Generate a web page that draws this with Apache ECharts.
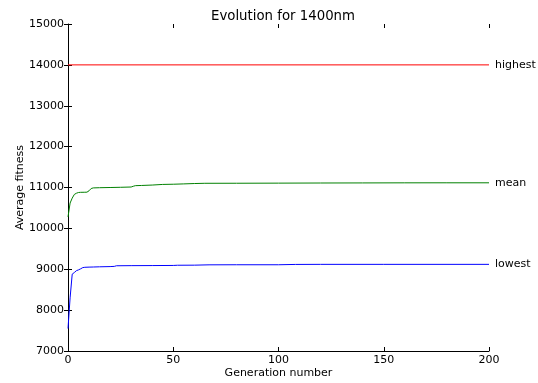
<!DOCTYPE html>
<html><head><meta charset="utf-8">
<script src="https://cdn.jsdelivr.net/npm/echarts@6/dist/echarts.min.js"></script>
<style>html,body{margin:0;padding:0;background:#fff}#c{width:538px;height:383px}</style>
</head><body><div id="c"></div>
<script>
const xTicks = [0, 50, 100, 150, 200];
const highestGens = [0, 200];
const highestVals = [14000, 14000];
const meanGens = [0, 1, 2, 3, 4, 5, 6, 8, 9, 10, 11, 12, 15, 20, 25, 30, 31, 32, 35, 40, 45, 50, 55, 60, 65, 80, 100, 120, 140, 160, 180, 200];
const meanVals = [10280, 10620, 10740, 10830, 10860, 10878, 10882, 10884, 10886, 10920, 10975, 10990, 10995, 11000, 11005, 11012, 11030, 11045, 11050, 11060, 11075, 11080, 11088, 11097, 11103, 11104, 11107, 11110, 11112, 11114, 11115, 11115];
const lowestGens = [0, 1, 2, 3, 4, 5, 6, 7, 8, 10, 12, 15, 20, 22, 23, 30, 40, 50, 52, 60, 67, 80, 100, 108, 120, 150, 200];
const lowestVals = [7550, 8300, 8880, 8920, 8965, 8985, 9010, 9040, 9048, 9052, 9055, 9060, 9065, 9070, 9085, 9088, 9090, 9093, 9098, 9100, 9108, 9110, 9110, 9118, 9120, 9120, 9120];
const seriesNames = ['highest', 'mean', 'lowest'];

const pairs = (g, v) => g.map((x, i) => [x, v[i]]);
const font = 'DejaVu Sans';
const fs = 11;
const chart = echarts.init(document.getElementById('c'));
const tickStyle = {show: true, inside: true, length: 4, lineStyle: {color: '#000', width: 1}};
const mk = (name, g, v, c) => ({
  name, type: 'line', data: pairs(g, v), showSymbol: false, symbol: 'none',
  lineStyle: {color: c, width: 1}, itemStyle: {color: c}, animation: false,
  endLabel: {show: true, formatter: name, color: '#000', fontFamily: font, fontSize: fs, distance: 6}
});
chart.setOption({
  animation: false,
  title: {text: 'Evolution for 1400nm', left: 278, textAlign: 'center', top: 5,
    textStyle: {fontFamily: font, fontSize: 13.3, fontWeight: 'normal', color: '#000'}},
  grid: {left: 68, right: 49, top: 24, bottom: 32, containLabel: false, outerBoundsMode: 'none'},
  xAxis: [
    {type: 'value', min: 0, max: 200, interval: 50, position: 'bottom',
     name: 'Generation number', nameLocation: 'middle', nameGap: 17, nameMoveOverlap: false,
     nameTextStyle: {fontFamily: font, fontSize: fs, color: '#000'},
     axisLine: {show: true, lineStyle: {color: '#000', width: 1}},
     axisTick: tickStyle, splitLine: {show: false},
     axisLabel: {fontFamily: font, fontSize: fs, color: '#000', margin: 4, formatter: v => String(v)}},
    {type: 'value', min: 0, max: 200, interval: 50, position: 'top',
     axisLine: {show: false}, axisTick: tickStyle, axisLabel: {show: false}, splitLine: {show: false}}
  ],
  yAxis: [
    {type: 'value', min: 7000, max: 15000, interval: 1000, position: 'left',
     name: 'Average fitness', nameLocation: 'middle', nameGap: 42, nameRotate: 90, nameMoveOverlap: false,
     nameTextStyle: {fontFamily: font, fontSize: fs, color: '#000'},
     axisLine: {show: true, lineStyle: {color: '#000', width: 1}},
     axisTick: tickStyle, splitLine: {show: false},
     axisLabel: {fontFamily: font, fontSize: fs, color: '#000', margin: 4, formatter: v => String(v)}},
    {type: 'value', min: 7000, max: 15000, interval: 1000, position: 'right',
     axisLine: {show: false}, axisTick: tickStyle, axisLabel: {show: false}, splitLine: {show: false}}
  ],
  series: [
    mk(seriesNames[0], highestGens, highestVals, '#ff0000'),
    mk(seriesNames[1], meanGens, meanVals, '#008000'),
    mk(seriesNames[2], lowestGens, lowestVals, '#0000ff')
  ]
});
</script></body></html>
